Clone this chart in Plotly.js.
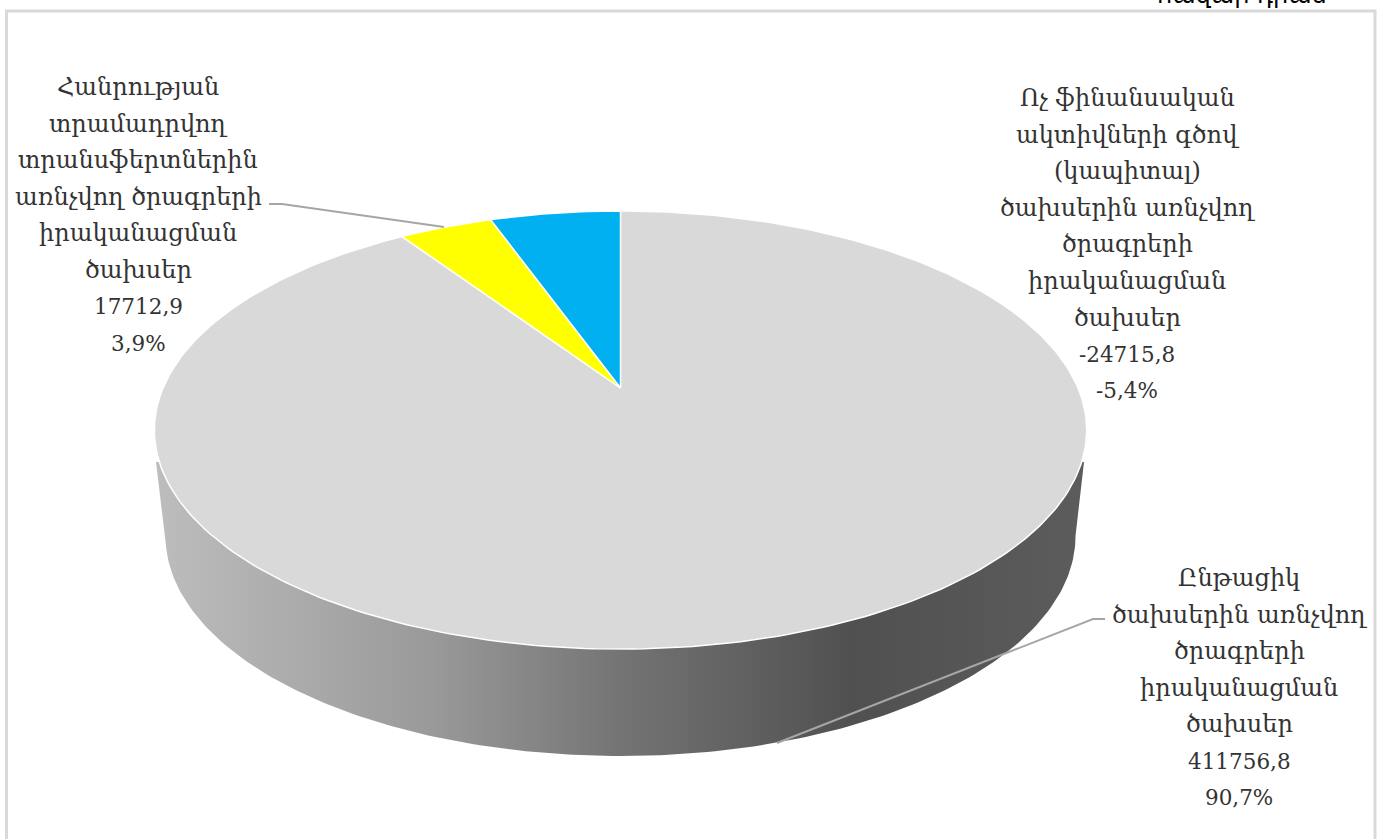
<!DOCTYPE html>
<html><head><meta charset="utf-8">
<script src="https://cdn.plot.ly/plotly-3.0.1.min.js"></script>
<style>html,body{margin:0;padding:0;background:#fff;overflow:hidden}#c{width:1384px;height:839px}</style>
</head><body><div id="c"></div>
<script>
// ---- data (clockwise from 12 o'clock) ----
const categories = [
  "Ընթացիկ ծախսերին առնչվող ծրագրերի իրականացման ծախսեր",
  "Հանրության տրամադրվող տրանսֆերտներին առնչվող ծրագրերի իրականացման ծախսեր",
  "Ոչ ֆինանսական ակտիվների գծով (կապիտալ) ծախսերին առնչվող ծրագրերի իրականացման ծախսեր"
];
const values = [411756.8, 17712.9, -24715.8];
const valueLabels = ["411756,8", "17712,9", "-24715,8"];
const percentLabels = ["90,7%", "3,9%", "-5,4%"];
const sliceColors = ["#d9d9d9", "#ffff00", "#00b0f0"];
const labelLines = [
  ["Ընթացիկ", "ծախսերին առնչվող", "ծրագրերի", "իրականացման", "ծախսեր"],
  ["Հանրության", "տրամադրվող", "տրանսֆերտներին", "առնչվող ծրագրերի", "իրականացման", "ծախսեր"],
  ["Ոչ ֆինանսական", "ակտիվների գծով", "(կապիտալ)", "ծախսերին առնչվող", "ծրագրերի", "իրականացման", "ծախսեր"]
];
const unitLabel = "հազար դրամ";

// ---- drawing settings ----
const FONT = '"DejaVu Serif", serif';
const FS = 24, FS_NUM = 21.5, PITCH = 36.6;
const labelPos = [{x:1239, y:578}, {x:138, y:87}, {x:1127, y:98}];
const apex = {x:620.5, y:388}, A = 457.5, B = 211, K = 0.1918;   // perspective of the top disc
const base = {x:620.5, y:536, a:455, b:220};                      // lower disc

function rim(t){ // t: fraction of the turn, clockwise from the top
  const th = t*2*Math.PI, u = Math.sin(th), v = Math.cos(th), d = 1 + K*v;
  return [apex.x + A*u/d, apex.y - B*v/d];
}
const total = values.reduce((s,v)=>s+Math.abs(v),0);
const traces = [];

// side wall
const wx = [156], wy = [462];
for(let i=0;i<=180;i++){
  const a = Math.PI*i/180;
  wx.push(base.x - base.a*Math.cos(a)); wy.push(base.y + base.b*Math.sin(a));
}
wx.push(1084); wy.push(462);
traces.push({type:'scatter',mode:'lines',x:wx,y:wy,fill:'toself',hoverinfo:'skip',showlegend:false,
  line:{width:0,color:'rgba(0,0,0,0)'},
  fillgradient:{type:'horizontal',colorscale:[[0,'#bdbdbd'],[0.3,'#999999'],[0.5,'#747474'],[0.75,'#505050'],[1,'#5c5c5c']]}});

// top slices, from the values
let acc = 0;
values.forEach((v,i)=>{
  const f = Math.abs(v)/total, n = Math.max(8,Math.ceil(f*360));
  const xs=[apex.x], ys=[apex.y];
  for(let j=0;j<=n;j++){ const p = rim(acc+f*j/n); xs.push(p[0]); ys.push(p[1]); }
  xs.push(apex.x); ys.push(apex.y);
  traces.push({type:'scatter',mode:'lines',x:xs,y:ys,fill:'toself',fillcolor:sliceColors[i],
    line:{color:'#ffffff',width:1.5},name:categories[i],showlegend:false,
    hoverinfo:'text',text:valueLabels[i]+' ('+percentLabels[i]+')'});
  acc += f;
});

// labels, one annotation per line
const annotations = [];
labelLines.forEach((lines,i)=>{
  lines.forEach((t,k)=>{
    annotations.push({xref:'x',yref:'y',x:labelPos[i].x,y:labelPos[i].y+k*PITCH,text:t,showarrow:false,
      xanchor:'center',yanchor:'middle',font:{family:FONT,size:FS,color:'#333333'}});
  });
  [valueLabels[i],percentLabels[i]].forEach((t,k)=>{
    annotations.push({xref:'x',yref:'y',x:labelPos[i].x,y:labelPos[i].y+(lines.length+k)*PITCH,text:t,showarrow:false,
      xanchor:'center',yanchor:'middle',font:{family:FONT,size:FS_NUM,color:'#333333'}});
  });
});
annotations.push({xref:'x',yref:'y',x:1242,y:0,yshift:5,text:unitLabel,showarrow:false,xanchor:'center',yanchor:'middle',
  font:{family:'"DejaVu Sans", sans-serif',size:24,color:'#000000'}});

const line = {color:'#d9d9d9',width:3};
const leader = {color:'#a6a6a6',width:2};
const shapes = [
  {type:'path',path:'M 6.5 839 L 6.5 11 L 1375 11 L 1375 839',line:line,layer:'below'},
  {type:'path',path:'M 269 204 L 282 204 L 444 227',line:leader},
  {type:'path',path:'M 1105 619 L 1093 619 L 777 743',line:leader}
];
const hidden = {visible:false,fixedrange:true};
Plotly.newPlot('c',traces,{
  width:1384,height:839,margin:{l:0,r:0,t:0,b:0},paper_bgcolor:'#fff',plot_bgcolor:'#fff',showlegend:false,
  xaxis:Object.assign({range:[0,1384]},hidden),yaxis:Object.assign({range:[839,0]},hidden),
  annotations:annotations,shapes:shapes
},{displayModeBar:false,staticPlot:true});
</script></body></html>
